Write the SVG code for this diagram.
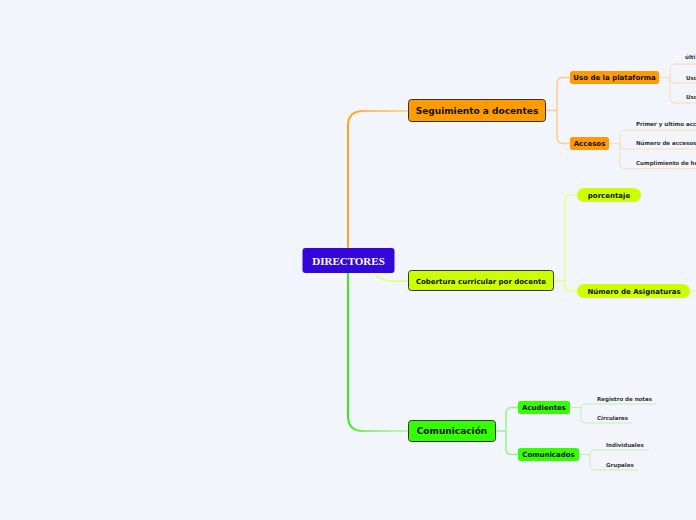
<svg xmlns="http://www.w3.org/2000/svg" width="696" height="520" viewBox="0 0 696 520">
<defs>
<linearGradient id="gO" gradientUnits="userSpaceOnUse" x1="348" y1="0" x2="408" y2="0">
<stop offset="0" stop-color="#ffa31a"/><stop offset="0.35" stop-color="#ffbe60"/><stop offset="1" stop-color="#ffd699"/>
</linearGradient>
<linearGradient id="gG" gradientUnits="userSpaceOnUse" x1="348" y1="0" x2="408" y2="0">
<stop offset="0" stop-color="#3be81a"/><stop offset="0.35" stop-color="#8ef27c"/><stop offset="1" stop-color="#c0f5b8"/>
</linearGradient>
<style>
.main{fill:none;stroke-width:2;stroke-linecap:round}
.sub{fill:none;stroke-width:1.5}
.leaf{fill:none;stroke-width:1}
.o{stroke:#ffcb85}
.ol{stroke:#fbdbb0}
.y{stroke:#e6ff8c}
.g{stroke:#9af08a}
.gl{stroke:#bff2b3}
.n1{stroke:#333;stroke-width:1}
.t9{font-family:"DejaVu Sans",sans-serif;font-weight:bold;font-size:9px;fill:#111;text-anchor:middle}
.t7{font-family:"DejaVu Sans",sans-serif;font-weight:bold;font-size:7px;fill:#111;text-anchor:middle}
.tl{font-family:"DejaVu Sans",sans-serif;font-weight:bold;font-size:5.5px;fill:#333}
</style>
</defs>
<rect width="696" height="520" fill="#f2f5fc"/>
<g id="connectors">
<path class="main" stroke="url(#gO)" d="M348,248 V126 Q348,111 363,111 H408"/>
<path class="main" stroke="url(#gG)" d="M348,273 V416 Q348,431 363,431 H408"/>
<path class="main y" d="M375,274 Q380,281 392,281 H408"/>
<path class="sub o" d="M546,110.5 H557 M557,110.5 V84 Q557,77.5 563,77.5 H570 M557,110.5 V137 Q557,143.5 563,143.5 H570"/>
<path class="leaf ol" d="M659,77.5 H670 M670,77.5 V69 Q670,64 675,64 H696 M670,77.5 V78 Q670,83 675,83 H696 M670,77.5 V98 Q670,103 675,103 H696"/>
<path class="leaf ol" d="M609,143.5 H620 M620,143.5 V135 Q620,130 625,130 H696 M620,143.5 V144 Q620,149 625,149 H696 M620,143.5 V163.7 Q620,168.7 625,168.7 H696"/>
<path class="sub y" d="M553,281 H565 M565,281 V200 Q565,195 570,195 H577 M565,281 V286 Q565,291 570,291 H577 M690,291 H696"/>
<path class="sub g" d="M495,431 H506 M506,431 V413 Q506,407.5 512,407.5 H518 M506,431 V449 Q506,454.5 512,454.5 H518"/>
<path class="leaf gl" d="M570,407.5 H581 M581,407.5 Q581,404 585,404 H656 M581,407.5 V418 Q581,423 586,423 H632"/>
<path class="leaf gl" d="M579,454.5 H590 M590,454.5 Q590,450 594,450 H649 M590,454.5 V465 Q590,470 595,470 H638"/>
</g>
<g id="root">
<rect x="302.5" y="248" width="92" height="25" rx="3" fill="#3306d9"/>
<text x="348.5" y="264.5" font-family="Liberation Serif,serif" font-weight="bold" font-size="11" fill="#fff" text-anchor="middle">DIRECTORES</text>
</g>
<g id="seguimiento">
<rect class="n1" x="408.5" y="99.5" width="137" height="22" rx="3" fill="#ff9a00"/>
<text class="t9" x="477" y="113.8">Seguimiento a docentes</text>
</g>
<g id="uso">
<rect x="570" y="71" width="89" height="13" rx="2.5" fill="#ff9a00"/>
<text class="t7" x="614.5" y="80">Uso de la plataforma</text>
</g>
<g id="uso-leaves">
<text class="tl" x="685" y="59">últi</text>
<text class="tl" x="686" y="79.5">Uso</text>
<text class="tl" x="686" y="98.7">Uso</text>
</g>
<g id="accesos">
<rect x="570" y="137" width="39" height="13" rx="2.5" fill="#ff9a00"/>
<text class="t7" x="589.5" y="146">Accesos</text>
</g>
<g id="accesos-leaves">
<text class="tl" x="636" y="126">Primer y ultimo acc</text>
<text class="tl" x="636" y="145">Número de accesos</text>
<text class="tl" x="636" y="164.7">Cumplimiento de ho</text>
</g>
<g id="cobertura">
<rect class="n1" x="408.5" y="270.5" width="145" height="20" rx="3" fill="#ccff00"/>
<text class="t7" x="481" y="283.5">Cobertura curricular por docente</text>
</g>
<g id="porcentaje">
<rect x="577" y="188" width="64" height="14" rx="7" fill="#ccff00"/>
<text class="t7" x="609" y="197.5">porcentaje</text>
</g>
<g id="asignaturas">
<rect x="577" y="284" width="113" height="14" rx="7" fill="#ccff00"/>
<text class="t7" x="634" y="293.5">Número de Asignaturas</text>
</g>
<g id="comunicacion">
<rect class="n1" x="408.5" y="420.5" width="87" height="21" rx="3" fill="#33ff00"/>
<text class="t9" x="452" y="434.3">Comunicación</text>
</g>
<g id="acudientes">
<rect x="518" y="401" width="52" height="13" rx="2.5" fill="#33ff00"/>
<text class="t7" x="544" y="410">Acudientes</text>
<text class="tl" x="597" y="401">Registro de notas</text>
<text class="tl" x="597" y="420">Circulares</text>
</g>
<g id="comunicados">
<rect x="518" y="448" width="61" height="13" rx="2.5" fill="#33ff00"/>
<text class="t7" x="548.5" y="457">Comunicados</text>
<text class="tl" x="606" y="447">Individuales</text>
<text class="tl" x="606" y="467">Grupales</text>
</g>
</svg>
